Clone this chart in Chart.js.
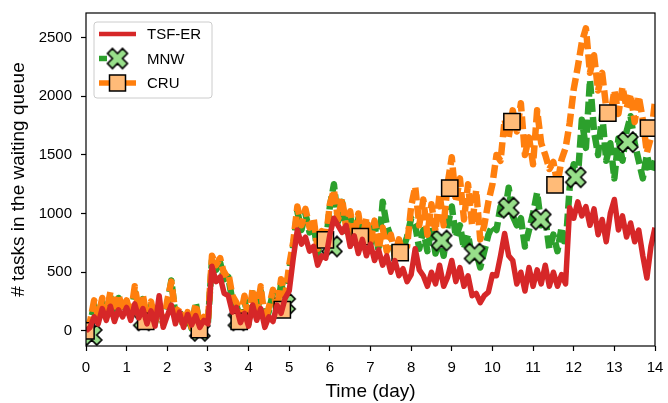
<!DOCTYPE html>
<html>
<head>
<meta charset="utf-8">
<script src="https://cdn.jsdelivr.net/npm/chart.js@4.4.1/dist/chart.umd.min.js"></script>
<style>
  html, body { margin: 0; padding: 0; background: #fff; }
  canvas { display: block; }
</style>
</head>
<body>
<canvas id="myChart" width="668" height="403"></canvas>
<script>
// sampled every 0.1 day, t = 0.0 ... 14.0
const sampleStep = 0.1;

const tsfValues = [
  0, 30, 120, 60, 190, 90, 210, 80, 180, 120,
  200, 90, 230, 110, 190, 60, 170, 40, 300, 30,
  130, 220, 60, 160, 30, 140, 50, 130, 30, 90,
  60, 550, 420, 460, 320, 300, 160, 200, 70, 150,
  40, 220, 90, 190, 30, 120, 80, 220, 150, 280,
  340, 620, 860, 740, 800, 680, 720, 560, 640, 620,
  820, 960, 900, 840, 900, 720, 810, 660, 780, 640,
  740, 600, 690, 560, 640, 500, 600, 470, 530, 420,
  480, 700, 520, 470, 380, 500, 400, 560, 380, 460,
  600, 420, 540, 380, 470, 300, 320, 240, 300, 330,
  480, 470, 640, 830, 640, 600, 400, 500, 340, 540,
  380, 520, 400, 560, 380, 500, 380, 480, 400, 1050,
  960, 1100, 980, 1060, 900, 1040, 820, 950, 760, 1000,
  1120, 860, 980, 800, 920, 760, 860, 640, 450, 720,
  880
];

const mnwValues = [
  -10, 60, 220, 110, 250, 130, 290, 140, 280, 160,
  230, 130, 330, 150, 270, 100, 220, 70, 200, 60,
  220, 430, 130, 170, 30, 140, 20, 240, 40, 100,
  70, 600, 520, 580, 440, 460, 260, 220, 100, 270,
  60, 320, 130, 340, 60, 170, 320, 150, 400, 280,
  520, 720, 1020, 860, 1000, 840, 920, 660, 820, 740,
  1060, 1250, 930, 1100, 850, 980, 780, 960, 760, 920,
  740, 900, 680, 1100, 900, 800, 640, 760, 700, 800,
  960, 900, 700, 860, 680, 880, 660, 800, 640, 900,
  1060, 800, 900, 700, 820, 620, 680, 540, 680, 820,
  900, 860, 1060, 1000, 1220, 980, 900, 960, 720, 860,
  1000, 1180, 900, 960, 700, 820, 680, 880, 720, 1220,
  1420, 1300, 1800, 1560, 2140, 1700, 1500, 1850, 1450, 1600,
  1300, 1640, 1450, 1700, 1830, 1600, 1450, 1300, 1500, 1350,
  1450
];

const cruValues = [
  20, 80, 260, 120, 280, 150, 330, 160, 310, 180,
  260, 140, 380, 170, 300, 120, 250, 80, 220, 60,
  260, 420, 150, 200, 40, 160, 30, 230, 50, 120,
  80, 640, 560, 620, 480, 500, 300, 240, 120, 300,
  80, 360, 150, 380, 80, 200, 350, 180, 440, 300,
  560, 760, 1060, 900, 1040, 880, 960, 700, 850, 780,
  1080, 1200, 950, 1130, 880, 1020, 800, 1000, 780, 960,
  760, 940, 700, 880, 680, 820, 650, 780, 660, 720,
  1060, 1230, 900, 1120, 820, 1080, 850, 1170, 900, 1260,
  1480, 1100, 1300, 950, 1250, 900, 1200, 780, 900, 1100,
  1250, 1500, 1450, 1800, 1650, 1880, 1700, 1940, 1500, 1650,
  1420, 1880, 1600, 1500, 1380, 1440, 1250, 1460, 1560, 1770,
  2060, 2250, 2460, 2580, 2200, 2350, 2050, 2200, 1900, 1830,
  2050, 1850, 2080, 1900, 2020, 1780, 2000, 1800, 1520, 1650,
  1960
];

// marker positions (day, tasks)
const mnwMarkDays = [0.14, 1.42, 2.8, 3.75, 4.9, 6.05, 8.75, 9.56, 10.4, 11.19, 12.05, 13.33];
const mnwMarkValues = [-35, 90, 0, 90, 230, 720, 770, 660, 1050, 950, 1310, 1610];
const cruMarkDays = [0, 1.47, 2.79, 3.77, 4.83, 5.89, 6.75, 7.73, 8.95, 10.48, 11.54, 12.84, 13.84];
const cruMarkValues = [0, 80, 10, 80, 180, 776, 804, 668, 1216, 1784, 1245, 1856, 1728];

const xTicks = [0, 1, 2, 3, 4, 5, 6, 7, 8, 9, 10, 11, 12, 13, 14];
const yTicks = [0, 500, 1000, 1500, 2000, 2500];

const RED = '#d62728';
const GREEN = '#2ca02c';
const ORANGE = '#ff7f0e';
const GREEN_LIGHT = '#98df8a';
const ORANGE_LIGHT = '#ffbb78';

Chart.defaults.font.family = "'Liberation Sans', Arial, sans-serif";
Chart.defaults.color = '#000';

function toPoints(values) {
  return values.map((v, i) => ({ x: Math.round(i * sampleStep * 10) / 10, y: v }));
}

function toMarks(days, values) {
  return days.map((d, i) => ({ x: d, y: values[i] }));
}

// filled X marker like matplotlib 'X'
function makeXMarker(size, fill) {
  const pad = 2;
  const c = document.createElement('canvas');
  c.width = c.height = size + pad * 2;
  const g = c.getContext('2d');
  const o = c.width / 2;
  const pts = [[-0.25, -0.5], [0, -0.25], [0.25, -0.5], [0.5, -0.25], [0.25, 0], [0.5, 0.25],
    [0.25, 0.5], [0, 0.25], [-0.25, 0.5], [-0.5, 0.25], [-0.25, 0], [-0.5, -0.25]];
  g.beginPath();
  pts.forEach((p, i) => {
    const px = o + p[0] * size, py = o + p[1] * size;
    if (i === 0) g.moveTo(px, py); else g.lineTo(px, py);
  });
  g.closePath();
  g.fillStyle = fill;
  g.fill();
  g.lineWidth = 1.6;
  g.lineJoin = 'miter';
  g.strokeStyle = '#000';
  g.stroke();
  return c;
}

const xMarker = makeXMarker(20, GREEN_LIGHT);

const framePlugin = {
  id: 'frame',
  afterDraw(chart) {
    const ctx = chart.ctx;
    const a = chart.chartArea;
    ctx.save();
    ctx.strokeStyle = '#000';
    ctx.lineWidth = 1.2;
    ctx.strokeRect(a.left, a.top, a.right - a.left, a.bottom - a.top);

    // legend
    const bx = a.left + 8, by = a.top + 9, bw = 118, bh = 76;
    ctx.beginPath();
    ctx.roundRect(bx, by, bw, bh, 3);
    ctx.fillStyle = 'rgba(255,255,255,0.8)';
    ctx.fill();
    ctx.strokeStyle = '#cccccc';
    ctx.lineWidth = 1;
    ctx.stroke();

    const entries = [
      { label: 'TSF-ER', color: RED, width: 4.5, dash: [], marker: null },
      { label: 'MNW', color: GREEN, width: 5.5, dash: [8, 30], marker: 'x' },
      { label: 'CRU', color: ORANGE, width: 5.5, dash: [], marker: 'rect' }
    ];
    const x0 = bx + 5, x1 = bx + 42, tx = bx + 53;
    entries.forEach((e, i) => {
      const y = by + 12 + i * 24.5;
      ctx.save();
      ctx.beginPath();
      ctx.setLineDash(e.dash);
      ctx.lineCap = 'butt';
      ctx.strokeStyle = e.color;
      ctx.lineWidth = e.width;
      ctx.moveTo(x0, y);
      ctx.lineTo(x1, y);
      ctx.stroke();
      ctx.restore();
      const mx = (x0 + x1) / 2;
      if (e.marker === 'x') {
        ctx.drawImage(xMarker, mx - xMarker.width / 2, y - xMarker.height / 2);
      } else if (e.marker === 'rect') {
        ctx.fillStyle = ORANGE_LIGHT;
        ctx.fillRect(mx - 8, y - 8, 16, 16);
        ctx.strokeStyle = '#000';
        ctx.lineWidth = 1.5;
        ctx.strokeRect(mx - 8, y - 8, 16, 16);
      }
      ctx.fillStyle = '#000';
      ctx.font = "15px 'Liberation Sans', Arial, sans-serif";
      ctx.textBaseline = 'middle';
      ctx.textAlign = 'left';
      ctx.fillText(e.label, tx, y + 1);
    });
    ctx.restore();
  }
};

const ctx = document.getElementById('myChart').getContext('2d');

const chart = new Chart(ctx, {
  type: 'line',
  data: {
    datasets: [
      {
        label: 'MNW',
        data: toPoints(mnwValues),
        borderColor: GREEN,
        borderWidth: 6.5,
        borderDash: [13, 5],
        borderJoinStyle: 'round',
        pointRadius: 0,
        tension: 0,
        clip: 0,
        order: 5
      },
      {
        label: 'MNW markers',
        data: toMarks(mnwMarkDays, mnwMarkValues),
        showLine: false,
        pointStyle: xMarker,
        pointRadius: 11,
        clip: 0,
        order: 4
      },
      {
        label: 'CRU',
        data: toPoints(cruValues),
        borderColor: ORANGE,
        borderWidth: 6.5,
        borderDash: [13, 5],
        borderJoinStyle: 'round',
        pointRadius: 0,
        tension: 0,
        clip: 0,
        order: 3
      },
      {
        label: 'CRU markers',
        data: toMarks(cruMarkDays, cruMarkValues),
        showLine: false,
        pointStyle: 'rect',
        pointRadius: 11.5,
        pointBackgroundColor: ORANGE_LIGHT,
        pointBorderColor: '#000',
        pointBorderWidth: 1.5,
        clip: 0,
        order: 2
      },
      {
        label: 'TSF-ER',
        data: toPoints(tsfValues),
        borderColor: RED,
        borderWidth: 5.5,
        borderJoinStyle: 'round',
        pointRadius: 0,
        tension: 0,
        clip: 0,
        order: 1
      }
    ]
  },
  options: {
    responsive: false,
    animation: false,
    events: [],
    layout: { padding: { left: 0, top: 12, right: 10, bottom: 0 } },
    plugins: {
      legend: { display: false },
      tooltip: { enabled: false }
    },
    scales: {
      x: {
        type: 'linear',
        min: 0,
        max: 14,
        afterBuildTicks: (s) => { s.ticks = xTicks.map((v) => ({ value: v })); },
        afterFit: (s) => { s.height = 57; s.paddingLeft = 0; s.paddingRight = 0; },
        ticks: { font: { size: 15 }, color: '#000', padding: 8, maxRotation: 0, autoSkip: false, callback: (v) => String(v) },
        grid: { drawOnChartArea: false, tickLength: 5, tickColor: '#000', tickWidth: 1.2 },
        border: { display: false },
        title: { display: true, text: 'Time (day)', font: { size: 19 }, color: '#000', padding: 0 }
      },
      y: {
        type: 'linear',
        min: -129,
        max: 2710,
        afterBuildTicks: (s) => { s.ticks = yTicks.map((v) => ({ value: v })); },
        afterFit: (s) => { s.width = 86; s.paddingTop = 0; s.paddingBottom = 0; },
        ticks: { font: { size: 15 }, color: '#000', padding: 9, callback: (v) => String(v) },
        grid: { drawOnChartArea: false, tickLength: 5, tickColor: '#000', tickWidth: 1.2 },
        border: { display: false },
        title: { display: true, text: '# tasks in the waiting queue', font: { size: 19 }, color: '#000', padding: { top: 7, bottom: 0 } }
      }
    }
  },
  plugins: [framePlugin]
});
</script>
</body>
</html>
